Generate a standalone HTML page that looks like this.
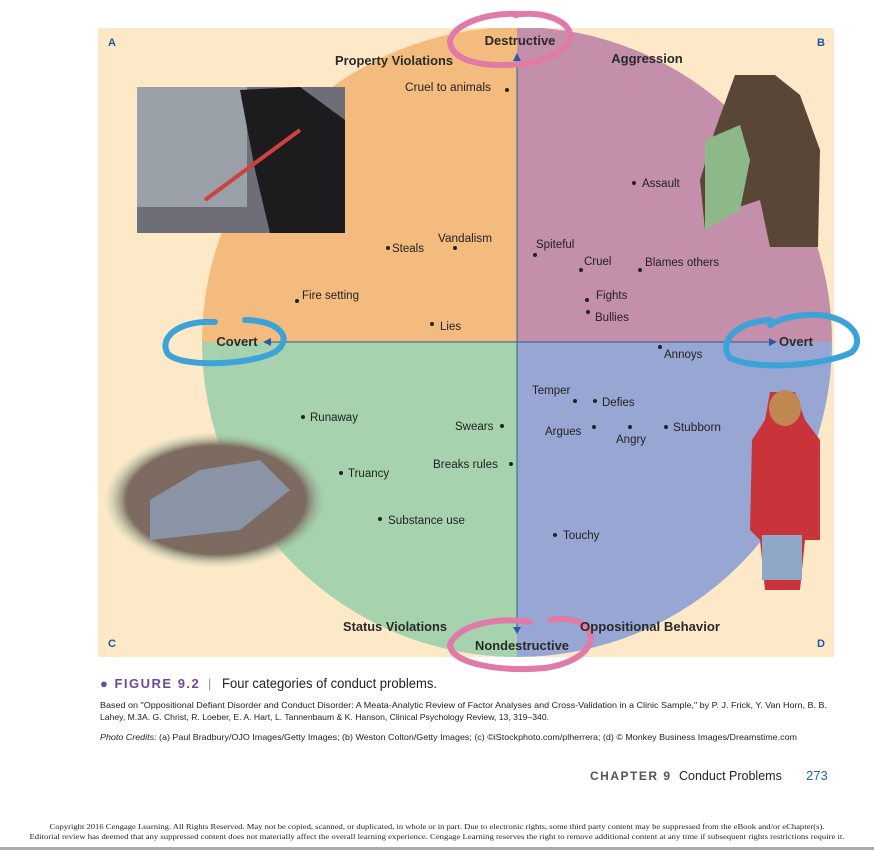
<!DOCTYPE html>
<html><head><meta charset="utf-8"><style>
html,body{margin:0;padding:0;background:#fff;}
svg{display:block;}
.l{font-family:"Liberation Sans",sans-serif;font-size:11.5px;fill:#222;}
.h{font-family:"Liberation Sans",sans-serif;font-size:13px;font-weight:bold;fill:#2a2a2a;}
.c{font-family:"Liberation Sans",sans-serif;}
</style></head><body>
<svg width="874" height="850" viewBox="0 0 874 850" xmlns="http://www.w3.org/2000/svg">
<defs>
<clipPath id="p"><rect x="98" y="28" width="736" height="629"/></clipPath>
<clipPath id="ci"><circle cx="517" cy="342" r="315"/></clipPath>
<radialGradient id="hg" cx="0.5" cy="0.5" r="0.5"><stop offset="0.8" stop-color="#7d6a60"/><stop offset="1" stop-color="#a6d3ad" stop-opacity="0"/></radialGradient>
</defs>
<rect x="98" y="28" width="736" height="629" fill="#fde9c8"/>
<g clip-path="url(#p)">
<g clip-path="url(#ci)">
<rect x="200" y="20" width="317" height="322" fill="#f3bc7e"/>
<rect x="517" y="20" width="320" height="322" fill="#c48fab"/>
<rect x="200" y="342" width="317" height="320" fill="#a6d3ad"/>
<rect x="517" y="342" width="320" height="320" fill="#98a6d4"/>
</g>
</g>
<line x1="517" y1="60" x2="517" y2="632" stroke="#2a6a88" stroke-width="1"/>
<line x1="270" y1="342" x2="770" y2="342" stroke="#2a5a9a" stroke-width="1"/>
<polygon points="517,53 513,61 521,61" fill="#2a5aa8"/>
<polygon points="513,627 521,627 517,634" fill="#2a5aa8"/>
<polygon points="263,342 271,338 271,346" fill="#2a5aa8"/>
<polygon points="777,342 769,338 769,346" fill="#2a5aa8"/>

<!-- photos -->
<rect x="137" y="87" width="208" height="146" fill="#6e6e78"/>
<rect x="137" y="87" width="110" height="120" fill="#9aa0a8"/>
<path d="M240 90 L300 87 L345 120 L345 233 L270 233 L255 170 Z" fill="#1c1c1e"/>
<line x1="205" y1="200" x2="300" y2="130" stroke="#d04040" stroke-width="4"/>
<path d="M735 75 L775 75 L800 95 L820 150 L818 247 L770 247 L760 200 L730 210 L705 230 L700 180 L715 130 Z" fill="#5a4636"/>
<path d="M705 140 L740 125 L750 160 L740 210 L705 230 Z" fill="#8db88a"/>
<ellipse cx="216" cy="500" rx="112" ry="68" fill="url(#hg)"/>
<path d="M150 500 L200 470 L260 460 L290 490 L240 530 L150 540 Z" fill="#8a94a6"/>
<path d="M770 392 L795 392 L805 420 L820 440 L820 540 L805 540 L800 590 L765 590 L760 540 L750 530 L752 440 L765 420 Z" fill="#c9343a"/>
<rect x="762" y="535" width="40" height="45" fill="#8fa8c8"/>
<ellipse cx="785" cy="408" rx="16" ry="18" fill="#c08850"/>

<!-- marker circles -->
<path d="M520 14 C480 12 450 28 450 42 C452 60 480 68 520 64 C560 60 580 40 565 25 C552 14 530 12 515 15" fill="none" stroke="#e07aa6" stroke-width="6" stroke-linecap="round"/>
<path d="M530 622 C490 616 455 628 450 645 C452 664 500 672 545 668 C585 662 600 640 585 626 C575 618 560 618 550 620" fill="none" stroke="#e07aa6" stroke-width="6" stroke-linecap="round"/>
<path d="M215 322 C178 320 158 338 168 354 C182 368 250 365 275 352 C295 338 278 320 245 320" fill="none" stroke="#3ba3d8" stroke-width="6" stroke-linecap="round"/>
<path d="M770 320 C735 322 718 342 730 358 C760 372 830 364 852 352 C866 338 850 318 820 315 C800 314 780 318 770 325" fill="none" stroke="#3ba3d8" stroke-width="6" stroke-linecap="round"/>

<text x="108" y="46" class="c" font-size="11" font-weight="bold" fill="#1a5aa0">A</text>
<text x="817" y="46" class="c" font-size="11" font-weight="bold" fill="#1a5aa0">B</text>
<text x="108" y="647" class="c" font-size="11" font-weight="bold" fill="#1a5aa0">C</text>
<text x="817" y="647" class="c" font-size="11" font-weight="bold" fill="#1a5aa0">D</text>

<text x="520" y="45" class="h" text-anchor="middle">Destructive</text>
<text x="394" y="65" class="h" text-anchor="middle" textLength="118" lengthAdjust="spacingAndGlyphs">Property Violations</text>
<text x="647" y="63" class="h" text-anchor="middle">Aggression</text>
<text x="237" y="346" class="h" text-anchor="middle">Covert</text>
<text x="796" y="346" class="h" text-anchor="middle">Overt</text>
<text x="395" y="631" class="h" text-anchor="middle" textLength="104" lengthAdjust="spacingAndGlyphs">Status Violations</text>
<text x="650" y="631" class="h" text-anchor="middle" textLength="140" lengthAdjust="spacingAndGlyphs">Oppositional Behavior</text>
<text x="522" y="650" class="h" text-anchor="middle" textLength="94" lengthAdjust="spacingAndGlyphs">Nondestructive</text>

<g fill="#222">
<circle cx="507" cy="90" r="2"/><circle cx="388" cy="248" r="2"/><circle cx="455" cy="248" r="2"/>
<circle cx="297" cy="301" r="2"/><circle cx="432" cy="324" r="2"/><circle cx="634" cy="183" r="2"/>
<circle cx="535" cy="255" r="2"/><circle cx="581" cy="270" r="2"/><circle cx="640" cy="270" r="2"/>
<circle cx="587" cy="300" r="2"/><circle cx="588" cy="312" r="2"/><circle cx="660" cy="347" r="2"/>
<circle cx="575" cy="401" r="2"/><circle cx="595" cy="401" r="2"/><circle cx="594" cy="427" r="2"/>
<circle cx="630" cy="427" r="2"/><circle cx="666" cy="427" r="2"/><circle cx="303" cy="417" r="2"/>
<circle cx="502" cy="426" r="2"/><circle cx="511" cy="464" r="2"/><circle cx="341" cy="473" r="2"/>
<circle cx="380" cy="519" r="2"/><circle cx="555" cy="535" r="2"/>
</g>
<text x="405" y="91" class="l" textLength="86" lengthAdjust="spacingAndGlyphs">Cruel to animals</text>
<text x="392" y="252" class="l">Steals</text>
<text x="438" y="242" class="l" textLength="54" lengthAdjust="spacingAndGlyphs">Vandalism</text>
<text x="302" y="299" class="l" textLength="57" lengthAdjust="spacingAndGlyphs">Fire setting</text>
<text x="440" y="330" class="l">Lies</text>
<text x="642" y="187" class="l">Assault</text>
<text x="536" y="248" class="l">Spiteful</text>
<text x="584" y="265" class="l">Cruel</text>
<text x="645" y="266" class="l" textLength="74" lengthAdjust="spacingAndGlyphs">Blames others</text>
<text x="596" y="299" class="l">Fights</text>
<text x="595" y="321" class="l">Bullies</text>
<text x="664" y="358" class="l">Annoys</text>
<text x="532" y="394" class="l">Temper</text>
<text x="602" y="406" class="l">Defies</text>
<text x="545" y="435" class="l">Argues</text>
<text x="616" y="443" class="l">Angry</text>
<text x="673" y="431" class="l" textLength="48" lengthAdjust="spacingAndGlyphs">Stubborn</text>
<text x="310" y="421" class="l">Runaway</text>
<text x="455" y="430" class="l">Swears</text>
<text x="433" y="468" class="l" textLength="65" lengthAdjust="spacingAndGlyphs">Breaks rules</text>
<text x="348" y="477" class="l">Truancy</text>
<text x="388" y="524" class="l" textLength="77" lengthAdjust="spacingAndGlyphs">Substance use</text>
<text x="563" y="539" class="l">Touchy</text>

<text x="100" y="688" class="c" font-size="13" font-weight="bold" fill="#6a4a9a" letter-spacing="1.5">● FIGURE 9.2</text>
<text x="208" y="688" class="c" font-size="13" fill="#999">|</text>
<text x="222" y="688" class="c" font-size="13.5" fill="#222" textLength="215" lengthAdjust="spacingAndGlyphs">Four categories of conduct problems.</text>
<text x="100" y="708" class="c" font-size="8.3" fill="#222" textLength="727" lengthAdjust="spacingAndGlyphs">Based on "Oppositional Defiant Disorder and Conduct Disorder: A Meata-Analytic Review of Factor Analyses and Cross-Validation in a Clinic Sample," by P. J. Frick, Y. Van Horn, B. B.</text>
<text x="100" y="720" class="c" font-size="8.3" fill="#222" textLength="449" lengthAdjust="spacingAndGlyphs">Lahey, M.3A. G. Christ, R. Loeber, E. A. Hart, L. Tannenbaum &amp; K. Hanson, Clinical Psychology Review, 13, 319–340.</text>
<text x="100" y="740" class="c" font-size="8.3" fill="#222" textLength="697" lengthAdjust="spacingAndGlyphs"><tspan font-style="italic">Photo Credits:</tspan> (a) Paul Bradbury/OJO Images/Getty Images; (b) Weston Colton/Getty Images; (c) ©iStockphoto.com/plherrera; (d) © Monkey Business Images/Dreamstime.com</text>
<text x="590" y="780" class="c" font-size="12" font-weight="bold" fill="#555" letter-spacing="1.5">CHAPTER 9</text>
<text x="679" y="780" class="c" font-size="12.5" fill="#222">Conduct Problems</text>
<text x="806" y="780" class="c" font-size="13" fill="#1a6aa0">273</text>
<text x="437" y="829" font-family="Liberation Serif,serif" font-size="7.6" fill="#222" text-anchor="middle" textLength="775" lengthAdjust="spacingAndGlyphs">Copyright 2016 Cengage Learning. All Rights Reserved. May not be copied, scanned, or duplicated, in whole or in part. Due to electronic rights, some third party content may be suppressed from the eBook and/or eChapter(s).</text>
<text x="437" y="839" font-family="Liberation Serif,serif" font-size="7.6" fill="#222" text-anchor="middle" textLength="815" lengthAdjust="spacingAndGlyphs">Editorial review has deemed that any suppressed content does not materially affect the overall learning experience. Cengage Learning reserves the right to remove additional content at any time if subsequent rights restrictions require it.</text>
<rect x="0" y="847" width="874" height="3" fill="#aaa"/>
</svg>
</body></html>
